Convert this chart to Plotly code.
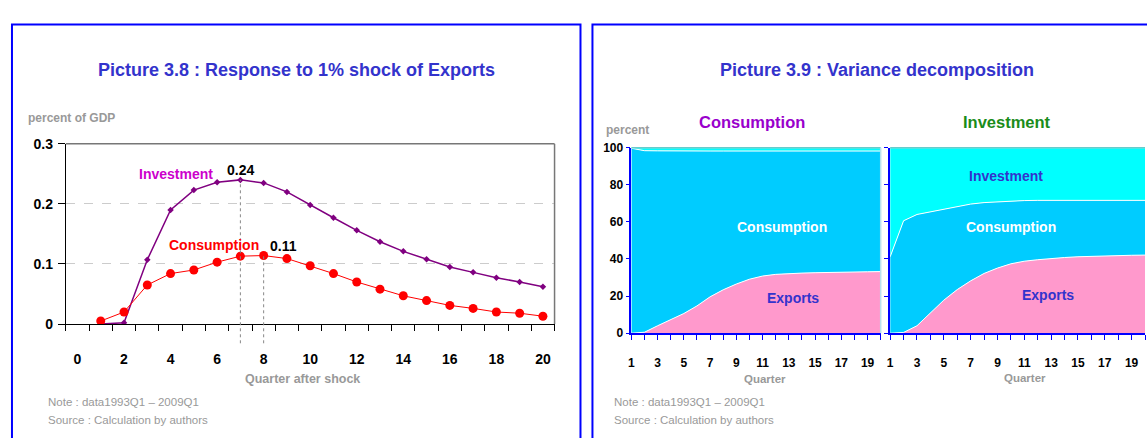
import plotly.graph_objects as go

W, H = 1147, 438
FONT = "Liberation Sans, Arial, sans-serif"

# ---- Picture 3.8: impulse responses (percent of GDP) ----
quarters = list(range(1, 21))
inv_response = [0.000, 0.002, 0.107, 0.190, 0.223, 0.236, 0.240, 0.235, 0.220, 0.198,
                0.177, 0.156, 0.137, 0.121, 0.108, 0.095, 0.086, 0.077, 0.070, 0.062]
cons_response = [0.005, 0.020, 0.065, 0.084, 0.090, 0.103, 0.113, 0.114, 0.109, 0.097,
                 0.084, 0.070, 0.058, 0.047, 0.039, 0.031, 0.026, 0.020, 0.018, 0.013]
resp_xticks = [0, 2, 4, 6, 8, 10, 12, 14, 16, 18, 20]
resp_yticks = [0, 0.1, 0.2, 0.3]
resp_yticktext = ["0", "0.1", "0.2", "0.3"]

# ---- Picture 3.9: variance decomposition (percent) ----
vd_quarters = list(range(1, 21))
# decomposition of consumption
cvd_exports = [0.0, 0.5, 4.0, 7.4, 10.6, 14.7, 19.6, 23.4, 26.5, 29.1,
               30.8, 31.7, 32.2, 32.4, 32.6, 32.8, 32.9, 33.0, 33.1, 33.2]
cvd_consumption = [99.7, 97.9, 94.3, 90.8, 87.6, 83.5, 78.6, 74.8, 71.7, 69.1,
                   67.4, 66.5, 66.0, 65.8, 65.6, 65.4, 65.3, 65.2, 65.1, 65.0]
cvd_investment = [0.3, 1.6, 1.7, 1.8, 1.8, 1.8, 1.8, 1.8, 1.8, 1.8,
                  1.8, 1.8, 1.8, 1.8, 1.8, 1.8, 1.8, 1.8, 1.8, 1.8]
# decomposition of investment
ivd_exports = [0.0, 0.4, 4.0, 10.9, 17.8, 23.5, 28.2, 32.2, 35.1, 37.4,
               38.8, 39.6, 40.3, 40.8, 41.2, 41.5, 41.7, 41.9, 42.0, 42.1]
ivd_consumption = [41.2, 60.2, 60.0, 54.5, 49.3, 45.0, 41.4, 38.2, 35.8, 33.9,
                   32.7, 32.0, 31.3, 30.9, 30.5, 30.2, 30.0, 29.7, 29.6, 29.5]
ivd_investment = [58.8, 39.4, 36.0, 34.6, 32.9, 31.5, 30.4, 29.6, 29.1, 28.7,
                  28.5, 28.4, 28.4, 28.3, 28.3, 28.3, 28.3, 28.4, 28.4, 28.4]
vd_xticks = [1, 3, 5, 7, 9, 11, 13, 15, 17, 19]
vd_yticks = [0, 20, 40, 60, 80, 100]

C_EXP, C_CONS, C_INV = "#ff99cc", "#00ccff", "#00ffff"
BLUE = "#0000ff"
TITLE_BLUE = "#3333cc"
GRAY = "#999999"


def px(x):
    return x / W


def py(y):
    return 1 - y / H


fig = go.Figure()

# impulse response lines
fig.add_trace(go.Scatter(
    x=quarters, y=inv_response, mode="lines+markers", xaxis="x", yaxis="y",
    line=dict(color="#800080", width=1.5),
    marker=dict(symbol="diamond", size=5, color="#800080"), showlegend=False))
fig.add_trace(go.Scatter(
    x=quarters, y=cons_response, mode="lines+markers", xaxis="x", yaxis="y",
    line=dict(color="#ff0000", width=1),
    marker=dict(symbol="circle", size=9, color="#ff0000"), showlegend=False))

# stacked variance shares
for xa, ya, series in (
    ("x2", "y2", [(cvd_exports, C_EXP), (cvd_consumption, C_CONS), (cvd_investment, C_INV)]),
    ("x3", "y3", [(ivd_exports, C_EXP), (ivd_consumption, C_CONS), (ivd_investment, C_INV)]),
):
    for vals, col in series:
        fig.add_trace(go.Scatter(
            x=vd_quarters, y=vals, mode="lines", xaxis=xa, yaxis=ya,
            stackgroup=xa, fillcolor=col, line=dict(color="white", width=1),
            showlegend=False, hoverinfo="skip"))

tickfont = dict(family=FONT, size=14, color="black", weight="bold")
vd_tickfont = dict(family=FONT, size=12, color="black", weight="bold")

fig.update_layout(
    width=W, height=H, margin=dict(l=0, r=0, t=0, b=0),
    paper_bgcolor="white", plot_bgcolor="white", font=dict(family=FONT),
    xaxis=dict(domain=[px(63), px(553)], range=[-0.5, 20.5], tickmode="array",
               tickvals=resp_xticks, ticks="", showline=True, linecolor="black",
               linewidth=1, showgrid=False, zeroline=False, tickfont=tickfont,
               ticklabelstandoff=22,
               minor=dict(ticks="outside", tick0=-0.5, dtick=1, ticklen=6,
                          tickcolor="black", showgrid=False)),
    yaxis=dict(domain=[py(328), py(141)], range=[0, 0.3], tickmode="array",
               tickvals=resp_yticks, ticktext=resp_yticktext, ticks="outside",
               ticklen=7, tickcolor="black", showline=True, linecolor="black",
               linewidth=1, showgrid=True, gridcolor="#cccccc", griddash="dash",
               zeroline=False, tickfont=tickfont, ticklabelstandoff=2),
    xaxis2=dict(domain=[px(630), px(880)], range=[1, 20], anchor="y2",
                tickmode="array", tickvals=vd_xticks, ticks="outside", ticklen=5,
                tickcolor=BLUE, showline=True, linecolor=BLUE, linewidth=1.5,
                showgrid=False, zeroline=False, tickfont=vd_tickfont,
                ticklabelstandoff=13,
                minor=dict(ticks="outside", tick0=1, dtick=1, ticklen=5,
                           tickcolor=BLUE, showgrid=False)),
    yaxis2=dict(domain=[py(337.5), py(145)], range=[0, 100], anchor="x2",
                tickmode="array", tickvals=vd_yticks, ticks="outside", ticklen=4,
                tickcolor=BLUE, showline=True, linecolor=BLUE, linewidth=1.5,
                showgrid=False, zeroline=False, tickfont=vd_tickfont),
    xaxis3=dict(domain=[px(889.5), px(1145)], range=[1, 20], anchor="y3",
                tickmode="array", tickvals=vd_xticks, ticks="outside", ticklen=5,
                tickcolor=BLUE, showline=True, linecolor=BLUE, linewidth=1.5,
                showgrid=False, zeroline=False, tickfont=vd_tickfont,
                ticklabelstandoff=13,
                minor=dict(ticks="outside", tick0=1, dtick=1, ticklen=5,
                           tickcolor=BLUE, showgrid=False)),
    yaxis3=dict(domain=[py(337.5), py(145)], range=[0, 100], anchor="x3",
                tickmode="array", tickvals=vd_yticks, ticks="outside", ticklen=4,
                tickcolor=BLUE, showline=True, linecolor=BLUE, linewidth=1.5,
                showgrid=False, zeroline=False, showticklabels=False),
)

shapes = [
    # panel frames
    dict(type="rect", xref="paper", yref="paper", x0=px(9), x1=px(579),
         y0=-0.1, y1=py(17), line=dict(color=BLUE, width=2), layer="below"),
    dict(type="rect", xref="paper", yref="paper", x0=px(591), x1=px(1160),
         y0=-0.1, y1=py(17), line=dict(color=BLUE, width=2), layer="below"),
    # top and right frame of the response chart
    dict(type="line", xref="x domain", yref="y domain", x0=0, x1=1, y0=1, y1=1,
         line=dict(color="#777777", width=1.5)),
    dict(type="line", xref="x domain", yref="y domain", x0=1, x1=1, y0=0, y1=1,
         line=dict(color="#777777", width=1.5)),
    # teal top edge of the decomposition panels
    dict(type="line", xref="x2 domain", yref="y2 domain", x0=0, x1=1, y0=1, y1=1,
         line=dict(color="#66cccc", width=1.5)),
    dict(type="line", xref="x3 domain", yref="y3 domain", x0=0, x1=1, y0=1, y1=1,
         line=dict(color="#66cccc", width=1.5)),
    dict(type="line", xref="x2 domain", yref="y2 domain", x0=1, x1=1, y0=0, y1=1,
         line=dict(color="#b8e0ee", width=1.5)),
]

annotations = []

# peak markers: dotted drop line and value label
ymax = 0.3
below = -20 / (328 - 141)
for series, dx, anchor in ((inv_response, 0, "center"), (cons_response, 4, "left")):
    i = max(range(len(series)), key=lambda k: series[k])
    q, v = quarters[i], series[i]
    shapes.append(dict(type="line", xref="x", yref="y domain", x0=q, x1=q,
                       y0=below, y1=v / ymax,
                       line=dict(color="#888888", width=1, dash="dot")))
    annotations.append(dict(x=q, y=v, xref="x", yref="y", text=f"<b>{v:.2f}</b>",
                            showarrow=False, xanchor=anchor, yanchor="bottom",
                            xshift=dx, yshift=0,
                            font=dict(family=FONT, size=14, color="black")))

fig.update_layout(shapes=shapes)


def note(x, y, text, size, color, bold=False, anchor="center"):
    t = f"<b>{text}</b>" if bold else text
    annotations.append(dict(x=px(x), y=py(y), xref="paper", yref="paper", text=t,
                            showarrow=False, xanchor=anchor, yanchor="middle",
                            font=dict(family=FONT, size=size, color=color)))


# titles
note(294.5, 64, "Picture 3.8 : Response to 1% shock of Exports", 18, TITLE_BLUE, True)
note(876, 64, "Picture 3.9 : Variance decomposition", 18, TITLE_BLUE, True)
note(751, 118, "Consumption", 16.5, "#9900cc", True)
note(1007, 118, "Investment", 16.5, "#1a8c1a", True)

# axis captions
note(23, 114, "percent of GDP", 12, GRAY, True, "left")
note(603, 127, "percent", 12, GRAY, True, "left")
note(300, 385, "Quarter after shock", 12.5, GRAY, True)
note(764, 385, "Quarter", 11.5, GRAY, True)
note(1025, 384, "Quarter", 11.5, GRAY, True)

# footnotes
for x0 in (43, 611):
    note(x0, 409, "Note : data1993Q1 – 2009Q1", 11.5, GRAY, False, "left")
    note(x0, 428, "Source : Calculation by authors", 11.5, GRAY, False, "left")

# series labels on the response chart
annotations.append(dict(x=4.25, y=0.249, xref="x", yref="y", text="<b>Investment</b>",
                        showarrow=False, font=dict(family=FONT, size=14, color="#cc00cc")))
annotations.append(dict(x=5.85, y=0.132, xref="x", yref="y", text="<b>Consumption</b>",
                        showarrow=False, font=dict(family=FONT, size=14, color="#ff0000")))

# labels inside the stacked areas
for xr, yr, x, y, text, col in (
    ("x2", "y2", 12.5, 57, "Consumption", "white"),
    ("x2", "y2", 13.3, 19, "Exports", TITLE_BLUE),
    ("x3", "y3", 9.6, 85, "Investment", TITLE_BLUE),
    ("x3", "y3", 10.0, 57, "Consumption", "white"),
    ("x3", "y3", 12.8, 20.5, "Exports", TITLE_BLUE),
):
    annotations.append(dict(x=x, y=y, xref=xr, yref=yr, text=f"<b>{text}</b>",
                            showarrow=False, font=dict(family=FONT, size=14, color=col)))

fig.update_layout(annotations=annotations)

fig.write_html("out.html")
